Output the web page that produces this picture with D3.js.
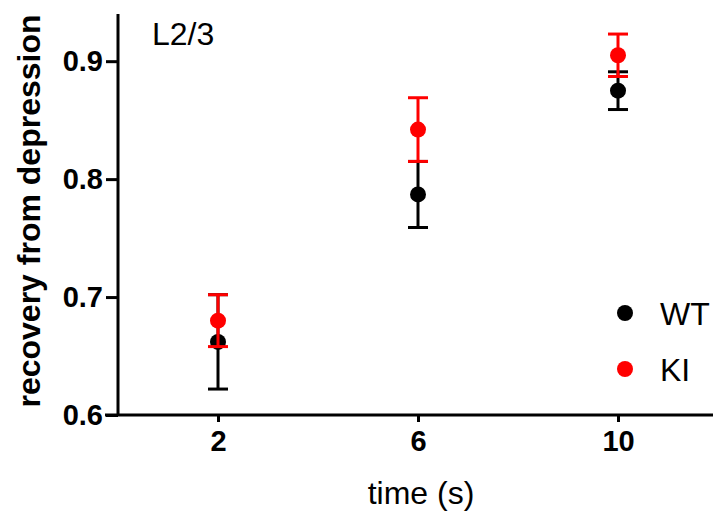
<!DOCTYPE html>
<html>
<head>
<meta charset="utf-8">
<script src="https://cdn.jsdelivr.net/npm/d3@7"></script>
<style>
  body { margin: 0; background: #fff; }
  svg { display: block; font-family: "Liberation Sans", Arial, sans-serif; }
</style>
</head>
<body>
<div id="chart"></div>
<script>
// data
var times = [2, 6, 10];
var wtMean = [0.662, 0.787, 0.875];
var wtErr = [0.040, 0.028, 0.016];
var kiMean = [0.680, 0.842, 0.905];
var kiErr = [0.022, 0.027, 0.018];
var yTicks = [0.6, 0.7, 0.8, 0.9];
var xTicks = [2, 6, 10];

var W = 713, H = 515;
var svg = d3.select("#chart").append("svg")
  .attr("width", W).attr("height", H);

var x = d3.scaleLinear().domain([0, 12]).range([118, 718]);
var y = d3.scaleLinear().domain([0.6, 0.94]).range([415, 14]);

// y axis
var yAxis = svg.append("g")
  .attr("transform", "translate(118,0)")
  .call(d3.axisLeft(y).tickValues(yTicks).tickFormat(d3.format(".1f")).tickSize(12).tickPadding(3));
yAxis.select(".domain").attr("d", "M0," + y.range()[1] + "V" + y.range()[0]);

// x axis
var xAxis = svg.append("g")
  .attr("transform", "translate(0,415)")
  .call(d3.axisBottom(x).tickValues(xTicks).tickSize(7).tickPadding(8));
xAxis.select(".domain").attr("d", "M105,0H" + W);

svg.selectAll(".domain, .tick line")
  .attr("stroke", "#000").attr("stroke-width", 3);
svg.selectAll(".tick text")
  .attr("fill", "#000")
  .style("font-size", "29px")
  .style("font-weight", "bold")
  .style("font-family", "'Liberation Sans', Arial, sans-serif");

// axis titles
svg.append("text")
  .attr("transform", "translate(40,211) rotate(-90)")
  .attr("text-anchor", "middle")
  .style("font-size", "32px")
  .style("font-weight", "bold")
  .text("recovery from depression");

svg.append("text")
  .attr("x", 421).attr("y", 504)
  .attr("text-anchor", "middle")
  .style("font-size", "32px")
  .text("time (s)");

svg.append("text")
  .attr("x", 152).attr("y", 45)
  .style("font-size", "32px")
  .text("L2/3");

// error bars + points
function drawGroup(means, errs, color) {
  var g = svg.append("g");
  var rows = times.map(function(t, i) { return {t: t, m: means[i], e: errs[i]}; });
  g.selectAll(".stem").data(rows).enter().append("line")
    .attr("x1", d => x(d.t)).attr("x2", d => x(d.t))
    .attr("y1", d => y(d.m - d.e)).attr("y2", d => y(d.m + d.e))
    .attr("stroke", color).attr("stroke-width", 3);
  ["lo", "hi"].forEach(function(k) {
    g.selectAll(".cap" + k).data(rows).enter().append("line")
      .attr("x1", d => x(d.t) - 10).attr("x2", d => x(d.t) + 10)
      .attr("y1", d => y(k == "lo" ? d.m - d.e : d.m + d.e))
      .attr("y2", d => y(k == "lo" ? d.m - d.e : d.m + d.e))
      .attr("stroke", color).attr("stroke-width", 3);
  });
  g.selectAll("circle").data(rows).enter().append("circle")
    .attr("cx", d => x(d.t)).attr("cy", d => y(d.m))
    .attr("r", 8).attr("fill", color);
}
drawGroup(wtMean, wtErr, "#000");
drawGroup(kiMean, kiErr, "#ff0000");

// legend
var legend = [{name: "WT", color: "#000"}, {name: "KI", color: "#ff0000"}];
var lg = svg.append("g");
lg.selectAll("circle").data(legend).enter().append("circle")
  .attr("cx", 625).attr("cy", (d, i) => 313 + i * 56)
  .attr("r", 8).attr("fill", d => d.color);
lg.selectAll("text").data(legend).enter().append("text")
  .attr("x", 660).attr("y", (d, i) => 325 + i * 56)
  .style("font-size", "32px")
  .text(d => d.name);
</script>
</body>
</html>
